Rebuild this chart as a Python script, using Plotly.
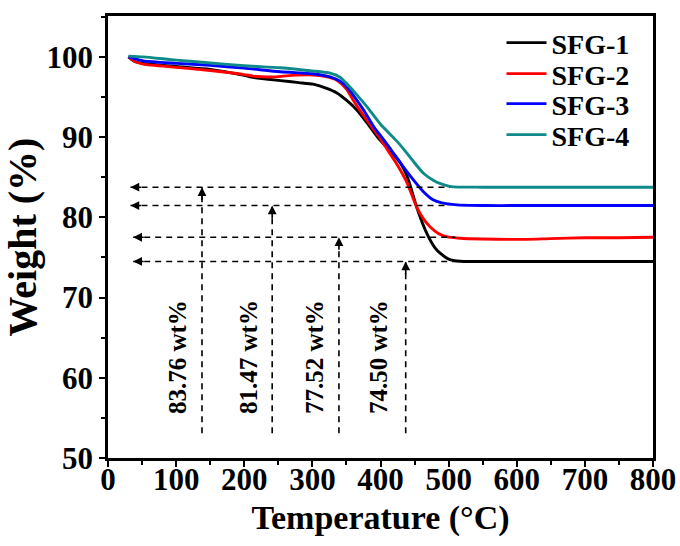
import plotly.graph_objects as go

# ---- data ----
sfg1_t = [30, 40, 52, 100, 150, 200, 213, 253, 280, 301, 320, 336, 350, 365, 380, 399, 415, 429, 440, 453, 468, 480, 488, 500, 517, 550, 600, 700, 800]
sfg1_w = [100.0, 99.4, 99.2, 98.8, 98.45, 97.7, 97.45, 97.05, 96.8, 96.6, 96.1, 95.5, 94.6, 93.4, 91.8, 89.65, 88.2, 86.8, 84.9, 81.3, 78.0, 76.2, 75.5, 74.8, 74.52, 74.5, 74.5, 74.5, 74.5]

sfg2_t = [30, 40, 52, 100, 150, 200, 213, 240, 270, 301, 320, 336, 350, 360, 380, 399, 409, 425, 439, 453, 463, 473, 485, 497, 517, 550, 600, 650, 700, 750, 800]
sfg2_w = [100.0, 99.4, 99.1, 98.7, 98.3, 97.8, 97.6, 97.5, 97.7, 97.75, 97.55, 97.1, 96.0, 94.6, 92.1, 89.9, 88.6, 86.5, 84.3, 81.3, 79.8, 78.8, 78.0, 77.6, 77.4, 77.3, 77.25, 77.35, 77.45, 77.45, 77.52]

sfg3_t = [30, 52, 100, 150, 200, 253, 282, 300, 326, 340, 350, 362, 375, 390, 399, 414, 430, 448, 463, 477, 490, 512, 550, 600, 800]
sfg3_w = [100.0, 99.5, 99.2, 98.95, 98.6, 98.15, 98.0, 97.9, 97.5, 97.0, 96.3, 95.0, 93.4, 91.3, 90.3, 88.6, 86.7, 84.7, 83.2, 82.2, 81.8, 81.55, 81.47, 81.47, 81.47]

sfg4_t = [30, 52, 100, 150, 200, 253, 300, 326, 340, 350, 365, 380, 400, 424, 433, 448, 463, 478, 488, 500, 507, 550, 800]
sfg4_w = [100.1, 100.0, 99.6, 99.25, 98.9, 98.65, 98.25, 97.97, 97.5, 96.7, 95.3, 93.8, 91.6, 89.5, 88.6, 87.0, 85.5, 84.6, 84.2, 83.9, 83.8, 83.76, 83.76]

series_names = ["SFG-1", "SFG-2", "SFG-3", "SFG-4"]
series_colors = ["#000000", "#FF0000", "#0000FF", "#0E8A8A"]
residues = [74.50, 77.52, 81.47, 83.76]          # wt% residue per series
residue_labels = ["74.50 wt%", "77.52 wt%", "81.47 wt%", "83.76 wt%"]
marker_temps = [437, 339, 241, 138]              # x of vertical guide lines
guide_left = [37, 37, 33, 33]                    # left end (arrow tip) of horizontal guides
guide_right = [510, 510, 497, 502]               # right end of horizontal guides
guide_bottom = 53.1                              # bottom of vertical guides
label_temps = [398, 304, 207, 103]
label_weight = 62.6
legend_rows = [0.939, 0.869, 0.801, 0.731]       # paper y of each legend row

FONT = "Liberation Serif"

fig = go.Figure()
legend_ids = ["legend", "legend2", "legend3", "legend4"]
for t, w, n, c, lid in zip([sfg1_t, sfg2_t, sfg3_t, sfg4_t], [sfg1_w, sfg2_w, sfg3_w, sfg4_w],
                           series_names, series_colors, legend_ids):
    fig.add_trace(go.Scatter(x=t, y=w, name=n, mode="lines", legend=lid,
                             line=dict(color=c, width=2.9, shape="spline", smoothing=0.6)))

annotations = []
for r, xl, xr, xm, lab, xt in zip(residues, guide_left, guide_right, marker_temps, residue_labels, label_temps):
    fig.add_trace(go.Scatter(x=[xl, xr], y=[r, r], mode="lines", showlegend=False, hoverinfo="skip",
                             line=dict(color="black", width=1.6, dash="6px,5px")))
    fig.add_trace(go.Scatter(x=[xm, xm], y=[guide_bottom, r], mode="lines", showlegend=False, hoverinfo="skip",
                             line=dict(color="black", width=1.6, dash="6px,5px")))
    annotations.append(dict(x=xl, y=r, xref="x", yref="y", ax=12, ay=0, text="", showarrow=True,
                            arrowhead=2, arrowsize=1.1, arrowwidth=1.6, arrowcolor="black"))
    annotations.append(dict(x=xm, y=r, xref="x", yref="y", ax=0, ay=14, text="", showarrow=True,
                            arrowhead=2, arrowsize=1.1, arrowwidth=1.6, arrowcolor="black"))
    annotations.append(dict(x=xt, y=label_weight, xref="x", yref="y", text=lab, showarrow=False,
                            textangle=-90, font=dict(family=FONT, size=25, color="black", weight="bold")))

legend_style = dict(x=0.722, xanchor="left", yanchor="middle", bgcolor="rgba(0,0,0,0)",
                    font=dict(family=FONT, size=28, color="black", weight="bold"), itemwidth=40)

fig.update_layout(
    width=680, height=546,
    margin=dict(l=108, r=27, t=16, b=88),
    paper_bgcolor="white", plot_bgcolor="white",
    font=dict(family=FONT, color="black"),
    annotations=annotations,
    legend=dict(y=legend_rows[0], **legend_style),
    legend2=dict(y=legend_rows[1], **legend_style),
    legend3=dict(y=legend_rows[2], **legend_style),
    legend4=dict(y=legend_rows[3], **legend_style),
    xaxis=dict(range=[0, 800], dtick=100, tick0=0, showgrid=False, zeroline=False, automargin=False,
               showline=True, linecolor="black", linewidth=2.5, mirror=True,
               ticks="outside", ticklen=6, tickwidth=2, tickcolor="black",
               minor=dict(dtick=50, ticks="outside", ticklen=4, tickwidth=2, tickcolor="black"),
               tickfont=dict(family=FONT, size=31, color="black", weight="bold"),
               ticklabelstandoff=-14,
               title=dict(text="Temperature (°C)", standoff=10,
                          font=dict(family=FONT, size=34, color="black", weight="bold"))),
    yaxis=dict(range=[50, 105.1], dtick=10, tick0=50, showgrid=False, zeroline=False, automargin=False,
               showline=True, linecolor="black", linewidth=2.5, mirror=True,
               ticks="outside", ticklen=6, tickwidth=2, tickcolor="black",
               minor=dict(dtick=5, ticks="outside", ticklen=4, tickwidth=2, tickcolor="black"),
               tickfont=dict(family=FONT, size=31, color="black", weight="bold"),
               title=dict(text="Weight (%)", standoff=0,
                          font=dict(family=FONT, size=40, color="black", weight="bold"))),
)

fig.write_html("out.html", post_script="document.body.style.margin='0';",
               config={"displayModeBar": False})
